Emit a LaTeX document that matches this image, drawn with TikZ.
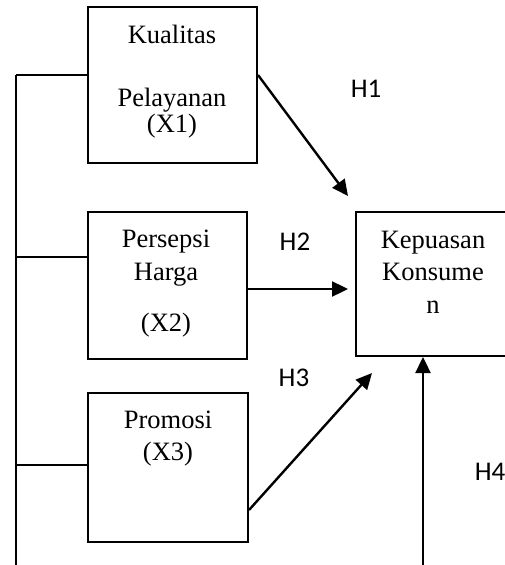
\documentclass[tikz,border=0pt]{standalone}
\usepackage{fontspec}
\setmainfont{Liberation Serif}
\newfontfamily\hfont{Carlito}
\usetikzlibrary{arrows.meta}
\begin{document}
\begin{tikzpicture}[x=1pt,y=-1pt,
  boxstyle/.style={draw,line width=2pt,inner sep=0pt},
  lbl/.style={anchor=base,inner sep=0pt,font=\fontsize{26.5}{30}\selectfont},
  hlbl/.style={anchor=center,inner sep=0pt,font=\hfont\fontsize{27}{30}\selectfont},
  link/.style={line width=2pt},
  arr/.style={line width=2.4pt,-{Triangle[length=16pt,width=15pt]}}]
\useasboundingbox (0,0) rectangle (505,565);
% boxes
\node[boxstyle,minimum width=169pt,minimum height=156pt] (b1) at (172.5,85) {};
\node[boxstyle,minimum width=159pt,minimum height=147pt] (b2) at (167.5,285.5) {};
\node[boxstyle,minimum width=160pt,minimum height=149pt] (b3) at (168,467.5) {};
\node[boxstyle,minimum width=160pt,minimum height=144pt] (b4) at (436,284) {};
% texts
\node[lbl] (t1a) at (172,43) {Kualitas};
\node[lbl] (t1b) at (172,106) {Pelayanan};
\node[lbl] (t1c) at (172,132) {(X1)};
\node[lbl] (t2a) at (166,247) {Persepsi};
\node[lbl] (t2b) at (166,280) {Harga};
\node[lbl] (t2c) at (166,331) {(X2)};
\node[lbl] (t3a) at (168,428) {Promosi};
\node[lbl] (t3b) at (168,460) {(X3)};
\node[lbl] (t4a) at (433,248) {Kepuasan};
\node[lbl] (t4b) at (433,280) {Konsume};
\node[lbl] (t4c) at (433,313) {n};
% hypothesis labels
\node[hlbl] (h1) at (366,89) {H1};
\node[hlbl] (h2) at (295,242) {H2};
\node[hlbl] (h3) at (294,378) {H3};
\node[hlbl] (h4) at (490,472) {H4};
% left bracket line
\coordinate (v1) at (16,75);
\coordinate (v2) at (16,257);
\coordinate (v3) at (16,465);
\coordinate (v4) at (16,565);
\draw[link] (v1) -- (v4);
\draw[link] (v1) -- (v1 -| b1.west);
\draw[link] (v2) -- (v2 -| b2.west);
\draw[link] (v3) -- (v3 -| b3.west);
% arrows
\coordinate (a1s) at (257,75);
\coordinate (a1e) at (348,196);
\draw[arr] (a1s -| b1.east) -- (a1e);
\coordinate (a2s) at (247,289);
\coordinate (a2e) at (348,289);
\draw[arr] (a2s -| b2.east) -- (a2e);
\coordinate (a3s) at (248,510);
\coordinate (a3e) at (372,373);
\draw[arr] (a3s -| b3.east) -- (a3e);
\coordinate (a4s) at (423,565);
\coordinate (a4e) at (423,357);
\draw[arr] (a4s) -- (a4e);
\end{tikzpicture}
\end{document}
